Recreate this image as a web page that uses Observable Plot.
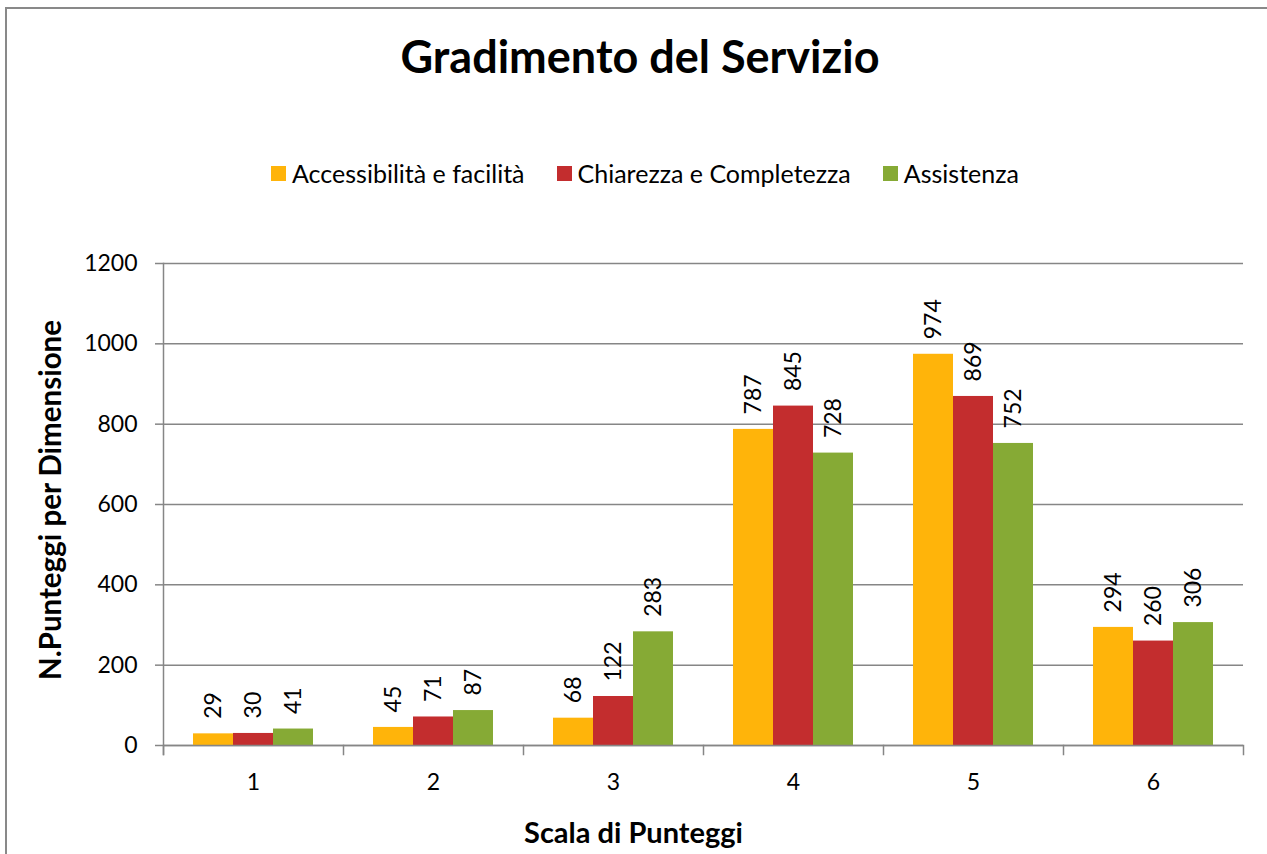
<!DOCTYPE html>
<html>
<head>
<meta charset="utf-8">
<script src="https://cdn.jsdelivr.net/npm/d3@7"></script>
<script src="https://cdn.jsdelivr.net/npm/@observablehq/plot@0.6"></script>
<style>
  html, body { margin: 0; padding: 0; background: #fff; }
  #wrap { position: relative; width: 1267px; height: 854px; overflow: hidden; font-family: Lato, "Open Sans", sans-serif; color: #000; }
  #border { position: absolute; left: 5px; top: 7px; width: 1300px; height: 900px; border-left: 2px solid #898989; border-top: 2px solid #898989; box-sizing: border-box; }
  #title { position: absolute; left: 0; top: 34px; width: 1280px; text-align: center; font-weight: bold; font-size: 45px; line-height: 45px; white-space: nowrap; }
  #legend { position: absolute; left: 0; top: 161px; width: 1290px; display: flex; justify-content: center; align-items: center; gap: 32px; font-size: 25px; line-height: 25px; white-space: nowrap; }
  #legend .item { display: flex; align-items: center; }
  #legend .sw { width: 15px; height: 15px; margin-right: 6px; }
  #chart { position: absolute; left: 0; top: 230px; }
  #xlabel { position: absolute; left: 0; top: 817px; width: 1267px; text-align: center; font-weight: bold; font-size: 29px; line-height: 29px; white-space: nowrap; }
  #ylabel { position: absolute; left: 50px; top: 500px; transform: translate(-50%, -50%) rotate(-90deg); font-weight: bold; font-size: 29.5px; line-height: 30px; white-space: nowrap; }
</style>
</head>
<body>
<div id="wrap">
  <div id="border"></div>
  <div id="title"></div>
  <div id="legend"></div>
  <div id="chart"></div>
  <div id="xlabel"></div>
  <div id="ylabel"></div>
</div>
<script>
// ---- data ----
const titleText = "Gradimento del Servizio";
const xTitle = "Scala di Punteggi";
const yTitle = "N.Punteggi per Dimensione";
const groups = ["1", "2", "3", "4", "5", "6"];
const series = ["Accessibilità e facilità", "Chiarezza e Completezza", "Assistenza"];
const accessibilita = [29, 45, 68, 787, 974, 294];
const chiarezza = [30, 71, 122, 845, 869, 260];
const assistenza = [41, 87, 283, 728, 752, 306];
const yTicks = [0, 200, 400, 600, 800, 1000, 1200];
const colors = ["#FFB40A", "#C32D2E", "#86AA35"];

const seriesValues = [accessibilita, chiarezza, assistenza];
const data = groups.flatMap((g, i) => series.map((s, j) => ({group: g, series: s, value: seriesValues[j][i]})));

document.getElementById("title").textContent = titleText;
document.getElementById("xlabel").textContent = xTitle;
document.getElementById("ylabel").textContent = yTitle;

const legend = document.getElementById("legend");
series.forEach((s, j) => {
  const item = document.createElement("div");
  item.className = "item";
  const sw = document.createElement("div");
  sw.className = "sw";
  sw.style.background = colors[j];
  const label = document.createElement("span");
  label.textContent = s;
  item.appendChild(sw);
  item.appendChild(label);
  legend.appendChild(item);
});

const axisGray = "#868686";
const chart = Plot.plot({
  width: 1267,
  height: 624,
  marginLeft: 163,
  marginRight: 24,
  marginTop: 33,
  marginBottom: 109,
  style: {fontFamily: "Lato, 'Open Sans', sans-serif", fontSize: "23px", color: "black", background: "transparent", overflow: "visible"},
  fx: {domain: groups, padding: 0, label: null},
  x: {domain: series, paddingInner: 0, paddingOuter: 0.75, axis: null},
  y: {domain: [0, 1200], label: null},
  color: {domain: series, range: colors},
  marks: [
    Plot.gridY(yTicks, {stroke: axisGray, strokeOpacity: 1, strokeWidth: 1.5}),
    Plot.barY(data, {fx: "group", x: "series", y: "value", fill: "series"}),
    Plot.text(data, {fx: "group", x: "series", y: "value", text: "value", rotate: -90, textAnchor: "start", dy: -15, fontSize: 23, fill: "black"}),
    Plot.ruleY([0], {stroke: axisGray, strokeWidth: 1.5}),
    Plot.frame({anchor: "left", facetAnchor: "left", stroke: axisGray, strokeWidth: 1.5, insetBottom: -9}),
    Plot.frame({anchor: "left", stroke: axisGray, strokeWidth: 1.5, insetTop: 482, insetBottom: -9}),
    Plot.frame({anchor: "right", facetAnchor: "right", stroke: axisGray, strokeWidth: 1.5, insetTop: 482, insetBottom: -9}),
    Plot.axisY(yTicks, {tickSize: 8, tickPadding: 18, stroke: axisGray, strokeWidth: 1.5, fill: "black", label: null, fontSize: 23, tickFormat: d => String(d)}),
    Plot.axisFx({anchor: "bottom", tickSize: 0, tickPadding: 28, label: null, fontSize: 23, fill: "black"})
  ]
});
document.getElementById("chart").appendChild(chart);
</script>
</body>
</html>
